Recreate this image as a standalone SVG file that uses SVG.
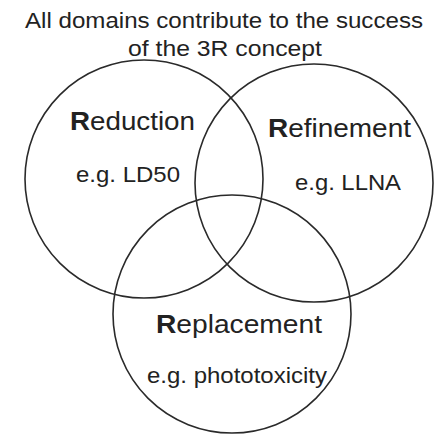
<svg xmlns="http://www.w3.org/2000/svg" width="436" height="436" viewBox="0 0 436 436">
  <style>
    .ring { fill: none; stroke: #2a2a2a; stroke-width: 1.6; }
    text { font-family: "Liberation Sans", Arial, sans-serif; fill: #222; text-anchor: middle; }
    .title { font-size: 22.5px; }
    .name { font-size: 25px; }
    .ex { font-size: 21.5px; }
    .b { font-weight: bold; }
  </style>
  <rect width="436" height="436" fill="#ffffff"/>
  <g id="title">
    <text class="title" x="224" y="28" textLength="398" lengthAdjust="spacingAndGlyphs">All domains contribute to the success</text>
    <text class="title" x="225" y="56" textLength="194" lengthAdjust="spacingAndGlyphs">of the 3R concept</text>
  </g>
  <g id="connectors"/>
  <g id="reduction">
    <circle class="ring" cx="144" cy="179" r="119"/>
    <text class="name" x="132.5" y="130" textLength="125" lengthAdjust="spacingAndGlyphs"><tspan class="b">R</tspan>eduction</text>
    <text class="ex" x="128" y="182" textLength="104" lengthAdjust="spacingAndGlyphs">e.g. LD50</text>
  </g>
  <g id="refinement">
    <circle class="ring" cx="314" cy="183" r="119"/>
    <text class="name" x="339.5" y="137" textLength="143" lengthAdjust="spacingAndGlyphs"><tspan class="b">R</tspan>efinement</text>
    <text class="ex" x="348" y="190" textLength="106" lengthAdjust="spacingAndGlyphs">e.g. LLNA</text>
  </g>
  <g id="replacement">
    <circle class="ring" cx="232" cy="314" r="119"/>
    <text class="name" x="239" y="333" textLength="166" lengthAdjust="spacingAndGlyphs"><tspan class="b">R</tspan>eplacement</text>
    <text class="ex" x="237" y="383" textLength="180" lengthAdjust="spacingAndGlyphs">e.g. phototoxicity</text>
  </g>
</svg>
